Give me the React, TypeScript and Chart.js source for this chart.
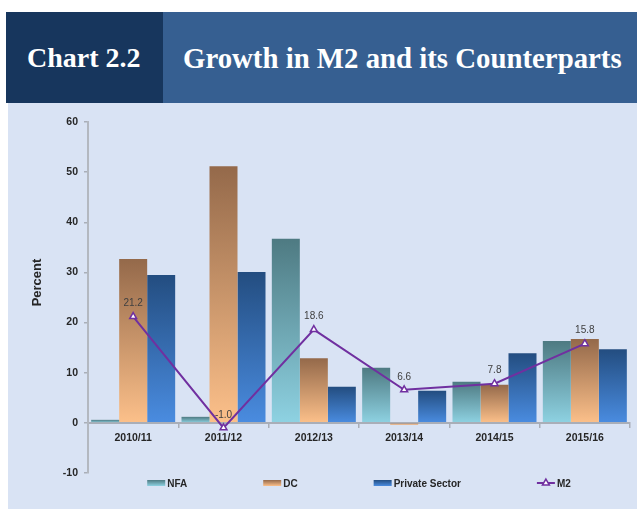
import React, { useEffect, useRef } from 'react';
import { Chart, registerables } from 'chart.js';

Chart.register(...registerables);

const categories = ['2010/11', '2011/12', '2012/13', '2013/14', '2014/15', '2015/16'];
const nfa = [0.6, 1.2, 36.7, 11.0, 8.2, 16.3];
const dc = [32.7, 51.2, 12.9, -0.4, 7.6, 16.7];
const privateSector = [29.5, 30.1, 7.2, 6.4, 13.9, 14.7];
const m2 = [21.2, -1.0, 18.6, 6.6, 7.8, 15.8];
const seriesNames = ['NFA', 'DC', 'Private Sector', 'M2'];
const yMin = -10;
const yMax = 60;
const yStep = 10;

const FONT = '"Liberation Sans", Arial, sans-serif';
const AXIS_GRAY = '#A9AEB8';
const TEXT = '#262626';
const M2_COLOR = '#7030A0';

const palettes: [string, string][] = [
  ['#4E7A82', '#8ED2E2'],
  ['#94694A', '#FCC08A'],
  ['#234D80', '#4A8CE0'],
];

const barGradient = (top: string, bottom: string) => (ctx: any) => {
  const chart = ctx.chart;
  const scale = chart.scales && chart.scales.y;
  if (!chart.chartArea || !scale || ctx.type !== 'data') return bottom;
  const v = ctx.raw as number;
  const y0 = scale.getPixelForValue(Math.max(v, 0));
  const y1 = scale.getPixelForValue(Math.min(v, 0));
  if (!isFinite(y0) || !isFinite(y1) || Math.abs(y1 - y0) < 0.5) return bottom;
  const g = chart.ctx.createLinearGradient(0, y0, 0, y1);
  g.addColorStop(0, top);
  g.addColorStop(1, bottom);
  return g;
};

function drawTriangle(c: CanvasRenderingContext2D, x: number, y: number, r: number) {
  let rad = 0;
  const step = (2 * Math.PI) / 3;
  c.beginPath();
  c.moveTo(x + Math.sin(rad) * r, y - Math.cos(rad) * r);
  rad += step;
  c.lineTo(x + Math.sin(rad) * r, y - Math.cos(rad) * r);
  rad += step;
  c.lineTo(x + Math.sin(rad) * r, y - Math.cos(rad) * r);
  c.closePath();
}

const overlayPlugin = {
  id: 'overlay',
  afterDatasetsDraw(chart: any) {
    const c: CanvasRenderingContext2D = chart.ctx;
    const meta = chart.getDatasetMeta(3);
    c.save();
    c.font = `10px ${FONT}`;
    c.fillStyle = '#404040';
    c.textAlign = 'center';
    c.textBaseline = 'middle';
    meta.data.forEach((pt: any, i: number) => {
      c.fillText(m2[i].toFixed(1), pt.x, pt.y - 13);
    });
    c.restore();
  },
  afterDraw(chart: any) {
    const c: CanvasRenderingContext2D = chart.ctx;
    const area = chart.chartArea;
    c.save();
    // y axis title
    c.font = `bold 13px ${FONT}`;
    c.fillStyle = TEXT;
    c.textAlign = 'center';
    c.textBaseline = 'middle';
    c.translate(29, (area.top + area.bottom) / 2 - 15);
    c.rotate(-Math.PI / 2);
    c.fillText('Percent', 0, 0);
    c.restore();

    // legend
    c.save();
    c.font = `bold 10px ${FONT}`;
    const sw = 18;
    const gapText = 2;
    const gap = 76;
    const widths = seriesNames.map((n) => sw + gapText + c.measureText(n).width);
    const total = widths.reduce((a, b) => a + b, 0) + gap * (seriesNames.length - 1);
    let x = (area.left + area.right) / 2 - total / 2;
    const ly = area.bottom + 10;
    seriesNames.forEach((name, i) => {
      if (i < 3) {
        const [top, bottom] = palettes[i];
        const g = c.createLinearGradient(0, ly - 3, 0, ly + 3);
        g.addColorStop(0, top);
        g.addColorStop(1, bottom);
        c.fillStyle = g;
        c.fillRect(x, ly - 3, sw, 6);
      } else {
        c.strokeStyle = M2_COLOR;
        c.lineWidth = 2;
        c.beginPath();
        c.moveTo(x, ly);
        c.lineTo(x + sw, ly);
        c.stroke();
        drawTriangle(c, x + sw / 2, ly, 4);
        c.fillStyle = '#fff';
        c.fill();
        c.lineWidth = 1.5;
        c.stroke();
      }
      c.fillStyle = TEXT;
      c.textAlign = 'left';
      c.textBaseline = 'middle';
      c.fillText(name, x + sw + gapText, ly + 1.5);
      x += widths[i] + gap;
    });
    c.restore();
  },
};

export default function App() {
  const canvasRef = useRef<HTMLCanvasElement | null>(null);

  useEffect(() => {
    if (!canvasRef.current) return;
    const chart = new Chart(canvasRef.current, {
      type: 'bar',
      data: {
        labels: categories,
        datasets: [
          {
            type: 'bar',
            label: seriesNames[0],
            data: nfa,
            backgroundColor: barGradient(palettes[0][0], palettes[0][1]),
            borderWidth: 0,
            order: 1,
          },
          {
            type: 'bar',
            label: seriesNames[1],
            data: dc,
            backgroundColor: barGradient(palettes[1][0], palettes[1][1]),
            borderWidth: 0,
            order: 1,
          },
          {
            type: 'bar',
            label: seriesNames[2],
            data: privateSector,
            backgroundColor: barGradient(palettes[2][0], palettes[2][1]),
            borderWidth: 0,
            order: 1,
          },
          {
            type: 'line',
            label: seriesNames[3],
            data: m2,
            borderColor: M2_COLOR,
            borderWidth: 2,
            backgroundColor: '#ffffff',
            pointStyle: 'triangle',
            pointRadius: 4,
            pointBorderWidth: 1.5,
            pointBorderColor: M2_COLOR,
            pointBackgroundColor: '#ffffff',
            tension: 0,
            fill: false,
            order: 0,
          } as any,
        ],
      },
      options: {
        animation: false,
        responsive: false,
        devicePixelRatio: 1,
        categoryPercentage: 0.93,
        barPercentage: 1.0,
        layout: { padding: { left: 0, right: 7, top: 19, bottom: 36 } },
        plugins: {
          legend: { display: false },
          tooltip: { enabled: false },
        },
        scales: {
          x: {
            position: { y: 0 } as any,
            offset: true,
            ticks: {
              font: { family: FONT, size: 10.5, weight: 'bold' },
              color: TEXT,
              padding: 5,
              maxRotation: 0,
            },
            grid: {
              drawOnChartArea: false,
              drawTicks: true,
              tickLength: 4,
              color: AXIS_GRAY,
              lineWidth: 1.5,
              offset: true,
            },
            border: { display: true, color: AXIS_GRAY, width: 2 },
          },
          y: {
            min: yMin,
            max: yMax,
            ticks: {
              stepSize: yStep,
              font: { family: FONT, size: 10.5, weight: 'bold' },
              color: TEXT,
              padding: 6,
            },
            grid: {
              drawOnChartArea: false,
              drawTicks: true,
              tickLength: 4,
              color: AXIS_GRAY,
              lineWidth: 1.5,
            },
            border: { display: true, color: '#B3B8C0', width: 2 },
            afterFit: (s: any) => {
              s.width = 80;
            },
          },
        },
      } as any,
      plugins: [overlayPlugin],
    });
    return () => chart.destroy();
  }, []);

  return (
    <div style={{ position: 'absolute', left: 0, top: 0, width: 637, height: 509, background: '#ffffff', overflow: 'hidden' }}>
      <div style={{ position: 'absolute', left: 6, top: 12, width: 157, height: 91, background: '#17365D' }} />
      <div style={{ position: 'absolute', left: 163, top: 12, width: 474, height: 91, background: '#365F91' }} />
      <div
        style={{
          position: 'absolute',
          left: 27,
          top: 44,
          fontFamily: '"Liberation Serif", "Times New Roman", serif',
          fontWeight: 'bold',
          fontSize: 28,
          lineHeight: '28px',
          color: '#ffffff',
          whiteSpace: 'nowrap',
        }}
      >
        Chart 2.2
      </div>
      <div
        style={{
          position: 'absolute',
          left: 183,
          top: 44,
          fontFamily: '"Liberation Serif", "Times New Roman", serif',
          fontWeight: 'bold',
          fontSize: 28.8,
          lineHeight: '28px',
          color: '#ffffff',
          whiteSpace: 'nowrap',
        }}
      >
        Growth in M2 and its Counterparts
      </div>
      <div style={{ position: 'absolute', left: 8, top: 103, width: 629, height: 406, background: '#D9E3F4' }}>
        <canvas ref={canvasRef} width={629} height={406} style={{ display: 'block', width: 629, height: 406 }} />
      </div>
    </div>
  );
}
